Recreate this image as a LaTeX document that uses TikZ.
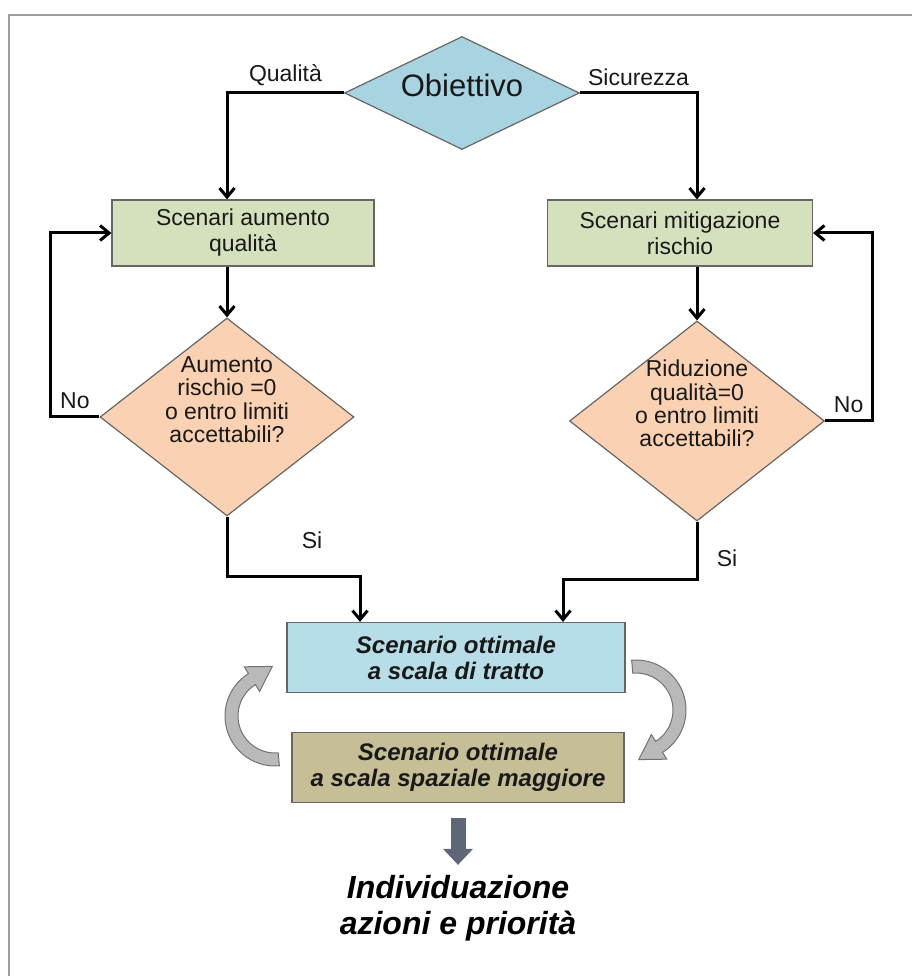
\documentclass[tikz,border=0pt]{standalone}
\usepackage{fontspec}
\setmainfont{Liberation Sans}
\usetikzlibrary{positioning, arrows.meta, shapes.geometric}

\definecolor{goalblue}{HTML}{A8D3E0}
\definecolor{scengreen}{HTML}{D5E1BD}
\definecolor{checkpeach}{HTML}{FAD1B2}
\definecolor{optblue}{HTML}{B7DEE8}
\definecolor{optolive}{HTML}{C5BE97}
\definecolor{downgray}{HTML}{5E6778}
% text of a check, lifted a bit above the centre
\newcommand{\dectext}[1]{\raisebox{8pt}[0pt][0pt]{\begin{tabular}{@{}c@{}}#1\end{tabular}}}

\begin{document}
\begin{tikzpicture}[x=1pt, y=1pt, >={Straight Barb[length=9pt,width=15pt]},
  base/.style={draw=black!60, line width=1.2pt, align=center, inner sep=0pt, text=black!90},
  scen/.style={base, fill=scengreen, minimum height=66pt, font=\fontsize{23}{26}\selectfont},
  check/.style={base, diamond, fill=checkpeach, minimum width=254pt, minimum height=198pt,
                font=\fontsize{23}{22}\selectfont},
  opt/.style={base, minimum height=70pt, font=\fontsize{24}{26}\selectfont\bfseries\itshape},
  lbl/.style={font=\fontsize{23}{26}\selectfont, inner sep=3pt, text=black!90},
  arr/.style={->, line width=3pt},
  turn/.style={fill=gray!55, draw=black!55, line width=1pt}]
  % frame (only top and left edge show)
  \useasboundingbox (0,0) rectangle (912,976);
  \draw[gray!75, line width=2.5pt] (9,0) -- (9,961) -- (912,961);
  % goal
  \node[base, diamond, fill=goalblue, aspect=2.08, minimum width=235pt, minimum height=113pt,
        text depth=16pt, font=\fontsize{31}{33}\selectfont] (goal) at (462,883) {Obiettivo};
  % scenarios
  \node[scen, minimum width=262pt] (scq) at (243,743) {Scenari aumento\\qualità};
  \node[scen, minimum width=265pt] (scr) at (680,743) {Scenari mitigazione\\rischio};
  % checks
  \node[check] (chq) at (227,559) {\dectext{Aumento\\rischio =0\\o entro limiti\\accettabili?}};
  \node[check, minimum width=255pt, minimum height=200pt] (chr) at (697,555)
       {\dectext{Riduzione\\qualità=0\\o entro limiti\\accettabili?}};
  % optimum, two scales
  \node[opt, fill=optblue, minimum width=338pt] (opt) at (456,318.5) {Scenario ottimale\\a scala di tratto};
  \node[opt, fill=optolive, minimum width=332pt, below=39pt of opt, xshift=2pt] (sec)
       {Scenario ottimale\\a scala spaziale maggiore};
  \node[font=\fontsize{32}{36}\selectfont\bfseries\itshape, align=center, inner sep=0pt] (act)
       at (458,68) {Individuazione\\azioni e priorità};
  % edges
  \draw[arr] (goal.west) -| node[lbl, pos=0.25, above=3pt]{Qualità} (chq |- scq.north);
  \draw[arr] (goal.east) -| node[lbl, pos=0.25, above=3pt]{Sicurezza} (chr |- scr.north);
  \draw[arr] (chq |- scq.south) -- (chq.north);
  \draw[arr] (chr |- scr.south) -- (chr.north);
  \draw[arr] (chq.west) -- node[lbl, above=4pt]{No} ++(-49,0) |- (scq.west);
  \draw[arr] (chr.east) -- node[lbl, above=4pt]{No} ++(47,0) |- (scr.east);
  \draw[arr] (chq.south) -- ++(0,-60) -| ([xshift=-96pt]opt.north);
  \draw[arr] (chr.south) -- ++(0,-58) -| ([xshift=107pt]opt.north);
  \node[lbl] (siq) at (312,436) {Si};
  \node[lbl] (sir) at (727,418) {Si};
  % turning arrows between the scales
  \begin{scope}[shift={(636,266)}]
    \filldraw[turn] (95:50pt) arc[start angle=95, end angle=-58, radius=50pt] -- (-58:58pt)
      -- (2.7,-49.6) -- (-58:29pt) -- (-58:37pt) arc[start angle=-58, end angle=95, radius=37pt] -- cycle;
  \end{scope}
  \begin{scope}[shift={(275,260)}, rotate=180]
    \filldraw[turn] (95:50pt) arc[start angle=95, end angle=-58, radius=50pt] -- (-58:58pt)
      -- (2.7,-49.6) -- (-58:29pt) -- (-58:37pt) arc[start angle=-58, end angle=95, radius=37pt] -- cycle;
  \end{scope}
  \draw[downgray, line width=15pt, -{Triangle[length=16pt,width=29pt]}]
    ([yshift=-15pt]sec.south) -- ([yshift=10pt]act.north);
\end{tikzpicture}
\end{document}
